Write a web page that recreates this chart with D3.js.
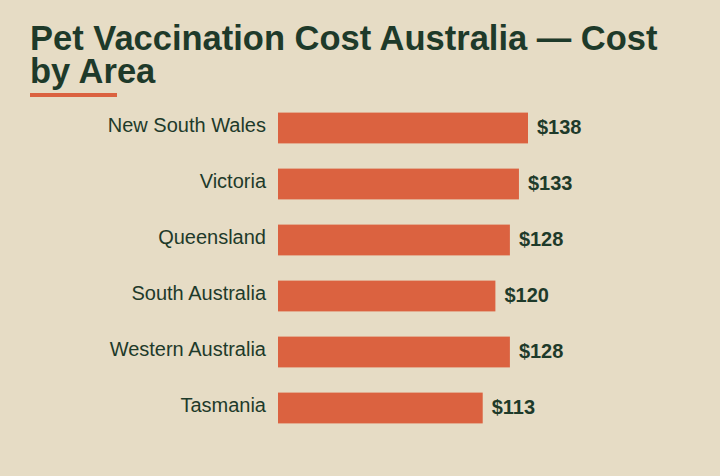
<!DOCTYPE html>
<html>
<head>
<meta charset="utf-8">
<script src="https://cdn.jsdelivr.net/npm/d3@7"></script>
<style>
  body { margin: 0; background: #e6dcc5; }
  text { font-family: "Liberation Sans", Arial, sans-serif; }
</style>
</head>
<body>
<div id="chart"></div>
<script>
/* Pet vaccination cost bar chart */

const width = 720, height = 476;

const areas = ["New South Wales", "Victoria", "Queensland", "South Australia", "Western Australia", "Tasmania"];
const costs = [138, 133, 128, 120, 128, 113];

const ink = "#1e3a2a", accent = "#db6240";

const svg = d3.select("#chart")
    .append("svg")
    .attr("width", width)
    .attr("height", height)
    .style("background", "#e6dcc5");

/* Title */
const title = svg.append("text")
    .attr("x", 30)
    .attr("y", 50)
    .attr("fill", ink)
    .attr("font-size", 34.5)
    .attr("font-weight", "bold");
title.append("tspan").attr("x", 30).text("Pet Vaccination Cost Australia — Cost");
title.append("tspan").attr("x", 30).attr("dy", 33).text("by Area");

svg.append("rect")
    .attr("x", 30).attr("y", 93)
    .attr("width", 87).attr("height", 4)
    .attr("fill", accent);

/* Scales */
let x = d3.scaleLinear()
    .domain([0, 138])
    .range([278, 528]);

let y = d3.scaleBand()
    .domain(areas)
    .range([100, 436])
    .paddingInner(0.45)
    .paddingOuter(0.225);

/* Bars */
svg.selectAll(".bar")
    .data(areas)
    .join("rect")
    .attr("class", "bar")
    .attr("x", x(0))
    .attr("y", d => y(d))
    .attr("width", (d, i) => x(costs[i]) - x(0))
    .attr("height", y.bandwidth())
    .attr("fill", accent);

/* Category labels */
svg.selectAll(".cat")
    .data(areas)
    .join("text")
    .attr("class", "cat")
    .attr("x", 266)
    .attr("y", d => y(d) + y.bandwidth() / 2 - 1)
    .attr("dominant-baseline", "middle")
    .attr("text-anchor", "end")
    .attr("font-size", 20)
    .attr("fill", ink)
    .text(d => d);

/* Value labels */
svg.selectAll(".val")
    .data(areas)
    .join("text")
    .attr("class", "val")
    .attr("x", (d, i) => x(costs[i]) + 9)
    .attr("y", d => y(d) + y.bandwidth() / 2 + 1)
    .attr("dominant-baseline", "middle")
    .attr("font-size", 20)
    .attr("font-weight", "bold")
    .attr("fill", ink)
    .text((d, i) => "$" + costs[i]);
</script>
</body>
</html>
